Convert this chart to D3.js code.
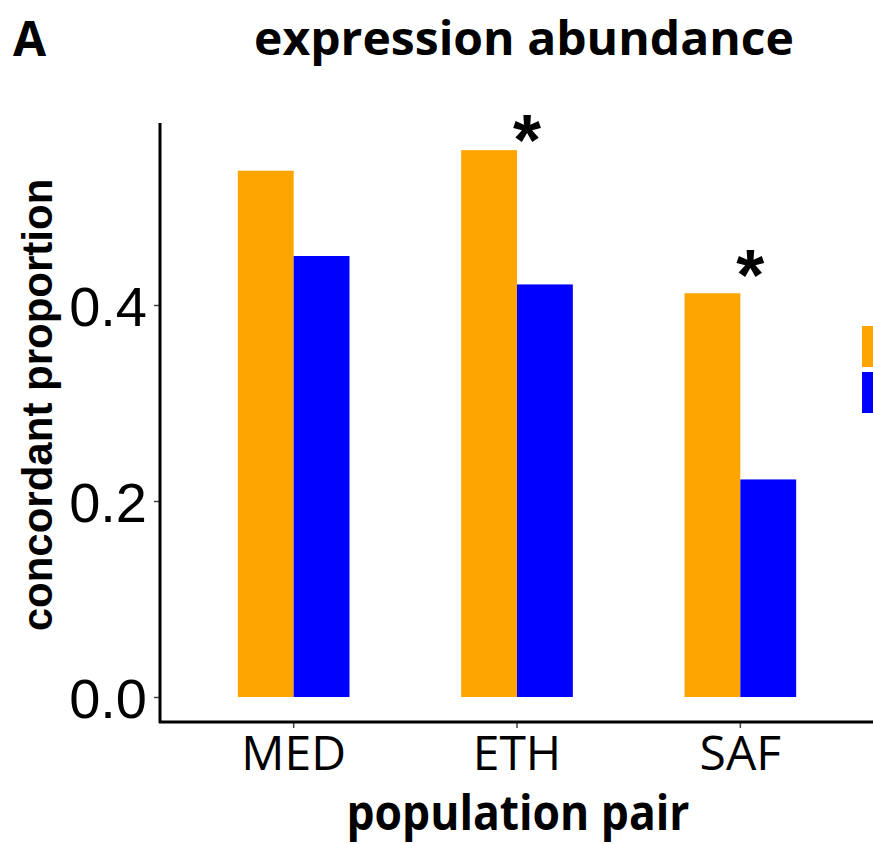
<!DOCTYPE html>
<html>
<head>
<meta charset="utf-8">
<script src="https://cdn.jsdelivr.net/npm/d3@7"></script>
<style>
  body { margin: 0; background: #fff; }
  svg { display: block; }
</style>
</head>
<body>
<div id="chart"></div>
<script>
// data
var pairs = ['MED', 'ETH', 'SAF'];
var groups = ['concordant', 'discordant'];
var orangeValues = [0.537, 0.558, 0.412];
var blueValues = [0.450, 0.421, 0.222];
var significant = [false, true, true];
var starLevels = [null, 0.584, 0.446];
var yTicks = [0.0, 0.2, 0.4];

var colors = d3.scaleOrdinal().domain(groups).range(['#FFA500', '#0000FF']);

var width = 873, height = 844;

var svg = d3.select('#chart').append('svg')
    .attr('width', width)
    .attr('height', height);

var yScale = d3.scaleLinear()
    .domain([0, 0.4])
    .range([697, 305]);

var xScale = d3.scaleBand()
    .domain(pairs)
    .range([182, 852])
    .paddingInner(0.5)
    .paddingOuter(0.25);

var xInner = d3.scaleBand()
    .domain(groups)
    .range([0, xScale.bandwidth()]);

// bars
var rows = pairs.map(function(p, i) {
  return { pair: p, values: [orangeValues[i], blueValues[i]], star: significant[i], level: starLevels[i] };
});

var g = svg.selectAll('.grp').data(rows)
  .enter().append('g')
    .attr('class', 'grp')
    .attr('transform', function(d) { return 'translate(' + xScale(d.pair) + ',0)'; });

g.selectAll('rect').data(function(d) {
    return d.values.map(function(v, j) { return { key: groups[j], value: v }; });
  })
  .enter().append('rect')
    .attr('x', function(d) { return xInner(d.key); })
    .attr('width', xInner.bandwidth())
    .attr('y', function(d) { return yScale(d.value); })
    .attr('height', function(d) { return yScale(0) - yScale(d.value); })
    .style('fill', function(d) { return colors(d.key); });

// significance stars
g.filter(function(d) { return d.star; })
  .append('text')
    .attr('x', xScale.bandwidth() / 2 + 10)
    .attr('y', function(d) { return yScale(d.level); })
    .attr('dy', '0.56em')
    .attr('text-anchor', 'middle')
    .style('font-family', 'Liberation Sans, Arial, sans-serif')
    .style('font-weight', 'bold')
    .style('font-size', '72px')
    .text('*');

// axes
var yAxis = d3.axisLeft(yScale)
    .tickValues(yTicks)
    .tickFormat(d3.format('.1f'))
    .tickSize(6)
    .tickPadding(7);

var yG = svg.append('g')
    .attr('transform', 'translate(160,0)')
    .call(yAxis);
yG.select('.domain').remove();
yG.selectAll('.tick line').attr('stroke', '#444').attr('stroke-width', 1.5);
yG.selectAll('.tick text')
    .style('font-family', 'Liberation Sans, Arial, sans-serif')
    .style('font-size', '56px')
    .attr('fill', '#000')
    .attr('dy', '0.36em');

var xAxis = d3.axisBottom(xScale)
    .tickSize(6)
    .tickPadding(8);

var xG = svg.append('g')
    .attr('transform', 'translate(0,722)')
    .call(xAxis);
xG.select('.domain').remove();
xG.selectAll('.tick line').attr('stroke', '#444').attr('stroke-width', 1.5);
xG.selectAll('.tick text')
    .style('font-family', 'Open Sans, sans-serif')
    .style('font-size', '48px')
    .attr('fill', '#000');

// axis lines
svg.append('line')
    .attr('x1', 160).attr('x2', 160)
    .attr('y1', 123).attr('y2', 723)
    .attr('stroke', '#000').attr('stroke-width', 3);
svg.append('line')
    .attr('x1', 159).attr('x2', 873)
    .attr('y1', 722).attr('y2', 722)
    .attr('stroke', '#000').attr('stroke-width', 3);

// titles
svg.append('text')
    .attr('x', 13).attr('y', 56)
    .style('font-family', 'Open Sans, sans-serif')
    .style('font-weight', 'bold')
    .style('font-size', '48px')
    .text('A');

svg.append('text')
    .attr('x', 524).attr('y', 55)
    .attr('text-anchor', 'middle')
    .attr('textLength', 540)
    .attr('lengthAdjust', 'spacingAndGlyphs')
    .style('font-family', 'Open Sans, sans-serif')
    .style('font-weight', 'bold')
    .style('font-size', '47px')
    .text('expression abundance');

svg.append('text')
    .attr('x', 518).attr('y', 830)
    .attr('text-anchor', 'middle')
    .attr('textLength', 343)
    .attr('lengthAdjust', 'spacingAndGlyphs')
    .style('font-family', 'Open Sans, sans-serif')
    .style('font-weight', 'bold')
    .style('font-size', '48px')
    .text('population pair');

svg.append('text')
    .attr('transform', 'translate(52,405) rotate(-90)')
    .attr('text-anchor', 'middle')
    .style('font-family', 'Liberation Sans, Arial, sans-serif')
    .style('font-weight', 'bold')
    .style('font-size', '42px')
    .text('concordant proportion');

// legend (cut off at the right edge)
svg.selectAll('.leg').data(groups)
  .enter().append('rect')
    .attr('class', 'leg')
    .attr('x', 862)
    .attr('y', function(d, i) { return 326 + i * 46; })
    .attr('width', 20)
    .attr('height', 41)
    .style('fill', function(d) { return colors(d); });
</script>
</body>
</html>
